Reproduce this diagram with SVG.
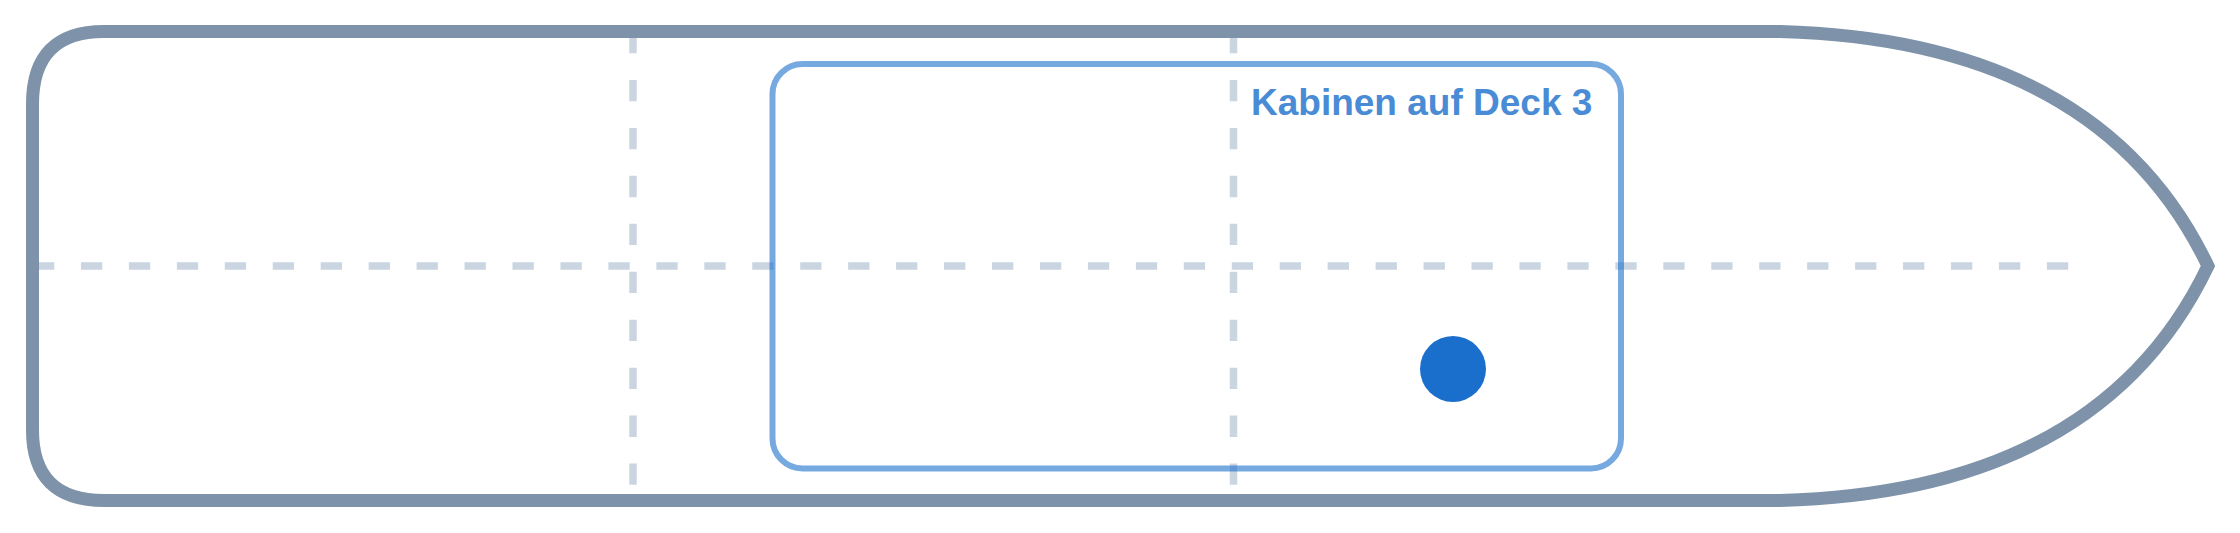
<svg xmlns="http://www.w3.org/2000/svg" width="2240" height="533" viewBox="0 0 2240 533">
  <style>
    .guide { stroke: #cad5e1; stroke-width: 7.5; stroke-dasharray: 21.3 26.65; fill: none; }
    .hull { fill: none; stroke: #7e93a9; stroke-width: 13; stroke-linejoin: miter; }
    .zone { fill: none; stroke: #1a6fcc; stroke-opacity: 0.6; stroke-width: 6; }
    .label { font-family: "Liberation Sans", Arial, sans-serif; font-weight: bold; font-size: 37px; fill: #4a8bd6; }
    .marker { fill: #1b6fcc; }
  </style>
  <rect x="0" y="0" width="2240" height="533" fill="#ffffff"/>
  <g id="guides">
    <line class="guide" x1="33" y1="266" x2="2075" y2="266"/>
    <line class="guide" x1="633" y1="32" x2="633" y2="500"/>
    <line class="guide" x1="1233.5" y1="32" x2="1233.5" y2="500"/>
  </g>
  <g id="hull">
    <path class="hull" d="M 104 31.5 L 1780 31.5 Q 2100 40 2208 266 Q 2100 492 1780 500.5 L 104 500.5 Q 32.5 500.5 32.5 430 L 32.5 104 Q 32.5 31.5 104 31.5 Z"/>
  </g>
  <g id="cabins">
    <rect class="zone" x="772.5" y="64" width="848.5" height="404.5" rx="30" ry="30"/>
    <text class="label" x="1251" y="115">Kabinen auf Deck 3</text>
  </g>
  <g id="position">
    <circle class="marker" cx="1453" cy="369" r="33"/>
  </g>
</svg>
